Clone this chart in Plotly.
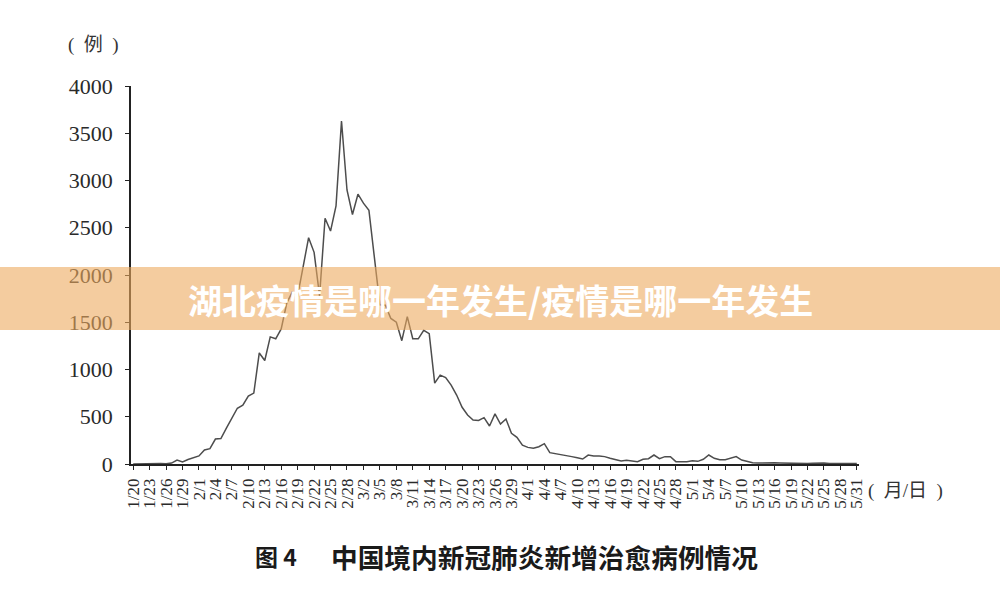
import plotly.graph_objects as go

# Daily newly cured cases, 1/20 .. 5/31 (one value per day)
cured = [
    0, 2, 0, 4, 3, 6, 3, 10, 42, 22,
    48, 68, 85, 148, 162, 264, 270, 380, 490, 590,
    622, 718, 750, 1175, 1095, 1345, 1325, 1430, 1700, 1820,
    1780, 2110, 2395, 2240, 1780, 2600, 2465, 2730, 3630, 2900,
    2640, 2855, 2760, 2685, 2190, 1685, 1680, 1540, 1500, 1305,
    1560, 1325, 1325, 1415, 1380, 855, 940, 915, 835, 730,
    600, 518, 466, 460, 490, 402, 530, 423, 476, 325,
    282, 200, 176, 166, 183, 215, 120, 110, 106, 92,
    78, 67, 53, 95, 85, 85, 78, 60, 50, 32,
    39, 32, 25, 50, 56, 95, 56, 78, 78, 25,
    25, 25, 35, 28, 50, 95, 60, 46, 46, 60,
    78, 42, 25, 14, 10, 12, 14, 12, 10, 8,
    6, 5, 6, 5, 8, 12, 10, 6, 8, 10,
    6, 5, 4,
]
tick_labels = [
    "1/20", "1/23", "1/26", "1/29", "2/1", "2/4", "2/7", "2/10", "2/13",
    "2/16", "2/19", "2/22", "2/25", "2/28", "3/2", "3/5", "3/8", "3/11",
    "3/14", "3/17", "3/20", "3/23", "3/26", "3/29", "4/1", "4/4", "4/7",
    "4/10", "4/13", "4/16", "4/19", "4/22", "4/25", "4/28", "5/1", "5/4",
    "5/7", "5/10", "5/13", "5/16", "5/19", "5/22", "5/25", "5/28", "5/31",
]
tick_step = 3
y_ticks = [0, 500, 1000, 1500, 2000, 2500, 3000, 3500, 4000]

days = list(range(len(cured)))
tick_pos = [i * tick_step for i in range(len(tick_labels))]

W, H = 1000, 599
L, R, T, B = 131, 141, 86, 135
pw, ph = W - L - R, H - T - B


def px(x):
    return (x - L) / pw


def py(y):
    return (H - B - y) / ph


fig = go.Figure()
fig.add_trace(go.Scatter(
    x=days, y=cured, mode="lines",
    line=dict(color="#4d4d4d", width=1.5),
    hoverinfo="skip", showlegend=False,
))

serif = "Liberation Serif, Times New Roman, serif"
cjk = "Noto Sans CJK SC, sans-serif"
mixed = "Liberation Serif, Noto Sans CJK SC, serif"

fig.update_layout(
    width=W, height=H,
    margin=dict(l=L, r=R, t=T, b=B, pad=0),
    paper_bgcolor="white", plot_bgcolor="white",
    xaxis=dict(
        range=[-0.4, 132.4], tickmode="array", tickvals=tick_pos,
        ticktext=tick_labels, tickangle=-90,
        tickfont=dict(family=serif, size=17, color="#2a2a2a"),
        ticks="outside", ticklen=4, tickwidth=1.2, tickcolor="#222",
        ticklabelstandoff=2,
        showline=True, linecolor="#222", linewidth=1.5,
        showgrid=False, zeroline=False, fixedrange=True,
    ),
    yaxis=dict(
        range=[0, 4000], tickmode="array", tickvals=y_ticks,
        tickfont=dict(family=serif, size=22, color="#2a2a2a"),
        ticks="outside", ticklen=4, tickwidth=1.2, tickcolor="#222",
        ticklabelstandoff=8,
        showline=True, linecolor="#222", linewidth=1.5,
        showgrid=False, zeroline=False, fixedrange=True,
    ),
)

# Axis unit labels
fig.add_annotation(text="(  例  )", x=px(93), y=py(45), xref="paper", yref="paper",
                   xanchor="center", yanchor="middle", showarrow=False,
                   font=dict(family=mixed, size=19, color="#333"))
fig.add_annotation(text="(  月/日  )", x=px(905), y=py(491), xref="paper", yref="paper",
                   xanchor="center", yanchor="middle", showarrow=False,
                   font=dict(family=mixed, size=19, color="#333"))

# Caption
fig.add_annotation(text="<b>图 4</b>", x=px(253), y=py(556), xref="paper", yref="paper",
                   xanchor="left", yanchor="middle", showarrow=False,
                   font=dict(family=cjk, size=23, color="#1a1a1a"))
fig.add_annotation(text="<b>中国境内新冠肺炎新增治愈病例情况</b>", x=px(329), y=py(556),
                   xref="paper", yref="paper", xanchor="left", yanchor="middle",
                   showarrow=False,
                   font=dict(family=cjk, size=26.7, color="#1a1a1a"))

# Overlay banner
fig.add_shape(type="rect", xref="paper", yref="paper",
              x0=px(0), x1=px(W), y0=py(330), y1=py(267),
              fillcolor="rgba(236,170,95,0.6)", line=dict(width=0), layer="above")
fig.add_annotation(text="<b>湖北疫情是哪一年发生/疫情是哪一年发生</b>", x=px(500), y=py(299),
                   xref="paper", yref="paper", xanchor="center", yanchor="middle",
                   showarrow=False,
                   font=dict(family=cjk, size=34, color="white"))

fig.write_html("out.html", config={"displayModeBar": False},
               post_script="document.body.style.margin='0';")
